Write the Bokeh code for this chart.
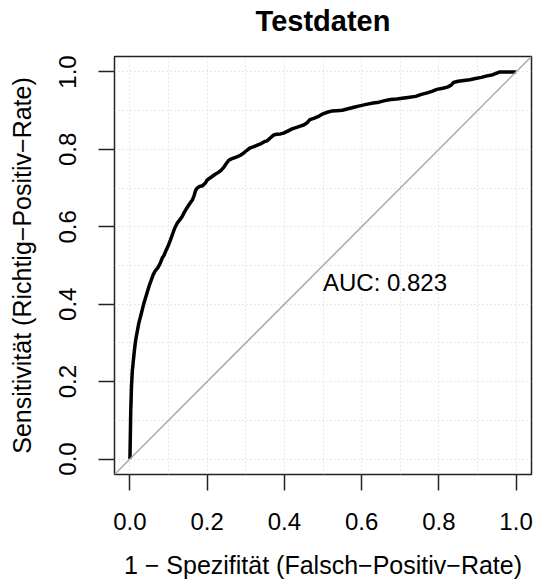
from bokeh.plotting import figure
from bokeh.models import FixedTicker, Slope, Range1d, PrintfTickFormatter, Title
from bokeh.core.properties import value
from bokeh.embed import file_html
from bokeh.resources import INLINE

title_text = "Testdaten"
x_label = "1 \u2212 Spezifit\u00e4t (Falsch\u2212Positiv\u2212Rate)"
y_label = "Sensitivit\u00e4t (Richtig\u2212Positiv\u2212Rate)"
auc_label = "AUC: 0.823"
axis_ticks = [0.0, 0.2, 0.4, 0.6, 0.8, 1.0]
grid_ticks = [0.0, 0.1, 0.2, 0.3, 0.4, 0.5, 0.6, 0.7, 0.8, 0.9, 1.0]

fpr = [0, 0.001, 0.002, 0.004, 0.006, 0.009, 0.012, 0.015, 0.019, 0.023, 0.028, 0.032,
       0.036, 0.042, 0.049, 0.055, 0.060, 0.066, 0.072, 0.078, 0.084, 0.088, 0.094, 0.100,
       0.105, 0.110, 0.116, 0.123, 0.130, 0.136, 0.140, 0.147, 0.155, 0.162, 0.166, 0.170,
       0.174, 0.180, 0.188, 0.196, 0.200, 0.210, 0.220, 0.228, 0.236, 0.244, 0.250, 0.256,
       0.264, 0.272, 0.280, 0.286, 0.294, 0.302, 0.310, 0.321, 0.330, 0.340, 0.348, 0.355,
       0.364, 0.372, 0.380, 0.390, 0.398, 0.410, 0.420, 0.432, 0.441, 0.450, 0.458, 0.466,
       0.476, 0.490, 0.500, 0.511, 0.522, 0.535, 0.550, 0.565, 0.580, 0.598, 0.615, 0.630,
       0.645, 0.660, 0.675, 0.691, 0.705, 0.720, 0.740, 0.755, 0.770, 0.782, 0.795, 0.810,
       0.822, 0.832, 0.838, 0.850, 0.865, 0.880, 0.895, 0.910, 0.925, 0.940, 0.950, 0.958,
       0.965, 0.975, 0.985, 1.0]
tpr = [0, 0.06, 0.12, 0.187, 0.225, 0.256, 0.285, 0.308, 0.330, 0.351, 0.370, 0.386,
       0.402, 0.422, 0.445, 0.462, 0.476, 0.487, 0.494, 0.505, 0.520, 0.526, 0.540, 0.553,
       0.566, 0.580, 0.597, 0.610, 0.619, 0.628, 0.636, 0.648, 0.660, 0.670, 0.680, 0.694,
       0.700, 0.704, 0.706, 0.714, 0.721, 0.728, 0.735, 0.740, 0.746, 0.755, 0.764, 0.772,
       0.776, 0.779, 0.782, 0.785, 0.790, 0.797, 0.803, 0.807, 0.811, 0.815, 0.820, 0.822,
       0.830, 0.837, 0.839, 0.840, 0.842, 0.848, 0.853, 0.857, 0.860, 0.863, 0.868, 0.877,
       0.880, 0.886, 0.892, 0.896, 0.899, 0.900, 0.901, 0.905, 0.909, 0.913, 0.917, 0.920,
       0.922, 0.926, 0.929, 0.930, 0.932, 0.934, 0.937, 0.942, 0.946, 0.950, 0.955, 0.958,
       0.961, 0.966, 0.973, 0.976, 0.978, 0.980, 0.983, 0.986, 0.990, 0.993, 0.997, 1.0,
       1.0, 1.0, 1.0, 1.0]
auc_pos = (0.5, 0.455)

FONT = "Liberation Sans"

p = figure(width=540, height=583, output_backend="svg", toolbar_location=None,
           x_range=Range1d(-0.04, 1.04), y_range=Range1d(-0.04, 1.04),
           min_border_left=114, min_border_right=9, min_border_top=56, min_border_bottom=109,
           title=title_text)
p.background_fill_color = "white"
p.border_fill_color = "white"
p.outline_line_color = "#222222"
p.outline_line_width = 1.5

# blank spacer between plot box and title, so the title sits higher
p.add_layout(Title(text=" ", text_font_size="1px", standoff=17), "above")

p.title.text_font = FONT
p.title.text_font_size = "29px"
p.title.text_font_style = "bold"
p.title.align = "center"
p.title.vertical_align = "bottom"
p.title.text_color = "black"
p.title.standoff = 0

for ax, lab in ((p.xaxis[0], x_label), (p.yaxis[0], y_label)):
    ax.ticker = FixedTicker(ticks=axis_ticks)
    ax.formatter = PrintfTickFormatter(format="%.1f")
    ax.axis_label = lab
    ax.axis_label_text_font = FONT
    ax.axis_label_text_font_size = "25px"
    ax.axis_label_text_font_style = "normal"
    ax.axis_label_text_color = "black"
    ax.major_label_text_font = FONT
    ax.major_label_text_font_size = "24px"
    ax.major_label_text_color = "black"
    ax.axis_line_color = None
    ax.major_tick_out = 16
    ax.major_tick_in = 0
    ax.major_tick_line_color = "#222222"
    ax.major_tick_line_width = 1.5
    ax.minor_tick_line_color = None
    ax.bounds = (0, 1)

p.yaxis[0].major_label_orientation = "vertical"
p.xaxis[0].major_label_standoff = 22
p.yaxis[0].major_label_standoff = 22
p.xaxis[0].axis_label_standoff = 18
p.yaxis[0].axis_label_standoff = 21

for g in (p.xgrid[0], p.ygrid[0]):
    g.ticker = FixedTicker(ticks=grid_ticks)
    g.grid_line_color = "#d3d3d3"
    g.grid_line_dash = "1 3"
    g.grid_line_width = 1

p.add_layout(Slope(gradient=1, y_intercept=0, line_color="#aaaaaa", line_width=1.5))
p.line(fpr, tpr, line_color="black", line_width=3.5, line_join="round")
p.text(x=[auc_pos[0]], y=[auc_pos[1]], text=[auc_label], text_font=value(FONT),
       text_font_size="24px", text_align="left", text_baseline="alphabetic",
       text_color="black")

open("out.html", "w").write(file_html(p, INLINE))
